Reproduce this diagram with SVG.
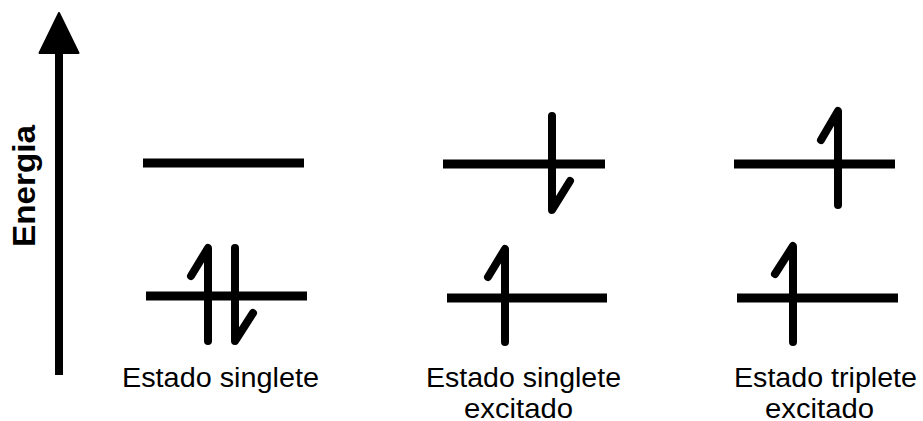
<svg xmlns="http://www.w3.org/2000/svg" width="923" height="421" viewBox="0 0 923 421">
<style>
.lvl{stroke:#000;stroke-width:9;stroke-linecap:butt;fill:none}
.spin{stroke:#000;stroke-width:8;stroke-linecap:round;stroke-linejoin:round;fill:none}
.lbl{font-family:"Liberation Sans",Arial,sans-serif;font-size:27.5px;fill:#000}
.axis{font-family:"Liberation Sans",Arial,sans-serif;font-size:31px;font-weight:bold;fill:#000}
</style>
<rect width="923" height="421" fill="#fff"/>
<g id="connectors">
<g id="energy-axis">
<line x1="59" y1="50" x2="59" y2="375" stroke="#000" stroke-width="8"/>
<polygon points="59,13 39.5,53 78.5,53" fill="#000" stroke="#000" stroke-width="2" stroke-linejoin="round"/>
</g>
</g>
<text class="axis" transform="translate(35,186) rotate(-90)" text-anchor="middle" textLength="122" lengthAdjust="spacingAndGlyphs">Energia</text>
<g id="singlete">
<line class="lvl" x1="143" y1="163" x2="304" y2="163"/>
<line class="lvl" x1="146" y1="296" x2="307" y2="296"/>
<path class="spin" d="M191,276 L208,248 L208,341"/>
<path class="spin" d="M235,248 L235,341 L253,313"/>
<text class="lbl" x="122" y="387" textLength="197" lengthAdjust="spacingAndGlyphs">Estado singlete</text>
</g>
<g id="singlete-excitado">
<line class="lvl" x1="443" y1="164" x2="605" y2="164"/>
<line class="lvl" x1="447" y1="298" x2="607" y2="298"/>
<path class="spin" d="M552,116 L552,210 L570,181"/>
<path class="spin" d="M488,277 L505,249 L505,342"/>
<text class="lbl" x="426" y="387" textLength="195" lengthAdjust="spacingAndGlyphs">Estado singlete</text>
<text class="lbl" x="464" y="418" textLength="109" lengthAdjust="spacingAndGlyphs">excitado</text>
</g>
<g id="triplete-excitado">
<line class="lvl" x1="734" y1="164" x2="895" y2="164"/>
<line class="lvl" x1="737" y1="298" x2="898" y2="298"/>
<path class="spin" d="M821,140 L838,111 L838,205"/>
<path class="spin" d="M775,274 L793,246 L793,342"/>
<text class="lbl" x="734" y="387" textLength="183" lengthAdjust="spacingAndGlyphs">Estado triplete</text>
<text class="lbl" x="765" y="418" textLength="109" lengthAdjust="spacingAndGlyphs">excitado</text>
</g>
</svg>
